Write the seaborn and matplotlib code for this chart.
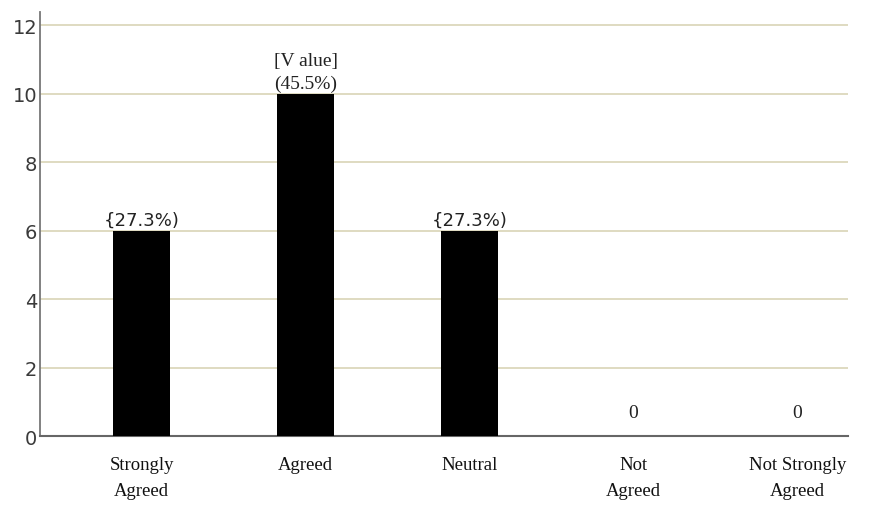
import matplotlib
matplotlib.use("Agg")
import matplotlib.pyplot as plt
import seaborn as sns
import pandas as pd

categories = ["Strongly\nAgreed", "Agreed", "Neutral", "Not\nAgreed", "Not Strongly\nAgreed"]
counts = [6, 10, 6, 0, 0]
bar_labels = ["{27.3%)", "[V alue]\n(45.5%)", "{27.3%)", "0", "0"]
y_ticks = [0, 2, 4, 6, 8, 10, 12]

sns.set_theme(style="white")
plt.rcParams["font.family"] = ["DejaVu Sans"]

df = pd.DataFrame({"category": categories, "count": counts})

fig = plt.figure(figsize=(8.69, 5.10), dpi=100)
ax = fig.add_axes([0.046, 0.143, 0.930, 0.832])

sns.barplot(data=df, x="category", y="count", color="black", width=0.35,
            saturation=1, ax=ax, zorder=3, edgecolor="black", linewidth=0)

ax.set_xlim(-0.62, 4.31)
ax.set_ylim(0, 12.4)
ax.set_yticks(y_ticks)
ax.set_yticklabels([str(t) for t in y_ticks], fontsize=14, color="#3a3a3a")
ax.tick_params(axis="y", length=0, pad=2)
ax.tick_params(axis="x", length=0, pad=14)
for lbl in ax.get_xticklabels():
    lbl.set_fontfamily("Liberation Serif")
    lbl.set_fontsize(13.5)
    lbl.set_color("#111111")
    lbl.set_linespacing(1.75)

for t in y_ticks[1:]:
    ax.axhline(t, color="#d6d1b0", linewidth=1.1, zorder=1)

ax.set_xlabel("")
ax.set_ylabel("")
for side in ["top", "right"]:
    ax.spines[side].set_visible(False)
ax.spines["left"].set_color("#777777")
ax.spines["bottom"].set_color("#666666")
ax.spines["left"].set_linewidth(1.3)
ax.spines["bottom"].set_linewidth(1.5)

for i, (v, text) in enumerate(zip(counts, bar_labels)):
    if v > 0:
        y = v + 0.06
    else:
        y = 0.45
    serif = "V" in text or text == "0"
    ax.text(i, y, text, ha="center", va="bottom",
            fontsize=14 if serif else 13,
            fontfamily="Liberation Serif" if serif else "DejaVu Sans",
            color="#222222", linespacing=1.4)

fig.savefig("out.png", dpi=100)
